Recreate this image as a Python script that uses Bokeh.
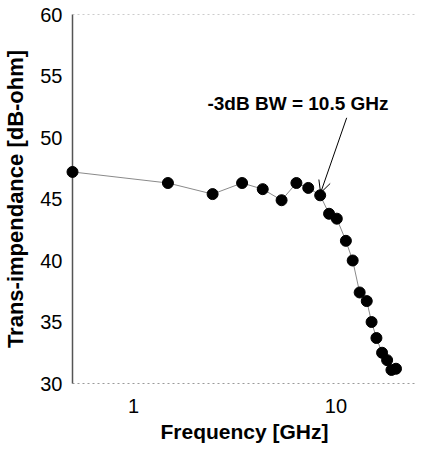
from bokeh.plotting import figure
from bokeh.models import FixedTicker, Range1d, Arrow, OpenHead, Span, ColumnDataSource
from bokeh.core.properties import value
from bokeh.embed import file_html
from bokeh.resources import INLINE

freq_ghz = [0.5, 1.48, 2.46, 3.44, 4.35, 5.39, 6.38, 7.30, 8.36, 9.25, 10.1,
            11.2, 12.1, 13.1, 14.2, 15.0, 15.85, 16.9, 17.9, 18.8, 19.8]
trans_imp = [47.2, 46.3, 45.4, 46.3, 45.8, 44.9, 46.3, 45.9, 45.3, 43.8, 43.4,
             41.6, 40.0, 37.4, 36.7, 35.0, 33.7, 32.5, 31.9, 31.1, 31.2]
x_ticks = [1, 10]
y_ticks = [30, 35, 40, 45, 50, 55, 60]
annot_text = ["-3dB BW = 10.5 GHz"]
annot_x = [2.32]
annot_y = [52.8]

FONT = "Liberation Sans"

p = figure(width=422, height=450, x_axis_type="log",
           x_range=Range1d(0.5, 25), y_range=Range1d(30, 60),
           output_backend="svg", toolbar_location=None,
           min_border_left=68, min_border_right=6, min_border_top=14, min_border_bottom=67)
p.outline_line_color = None
p.grid.visible = False
p.background_fill_color = "white"

src = ColumnDataSource(dict(x=freq_ghz, y=trans_imp))
p.line("x", "y", source=src, line_color="#8a8a8a", line_width=1)
p.scatter("x", "y", source=src, size=11, fill_color="black", line_color="black", level="overlay")

# top border (dotted, faint)
p.add_layout(Span(location=60, dimension="width", line_color="#9a9a9a",
                  line_dash="2 3", line_width=1))

p.xaxis.ticker = FixedTicker(ticks=x_ticks, minor_ticks=[])
p.yaxis.ticker = FixedTicker(ticks=y_ticks, minor_ticks=[])
p.xaxis.major_label_overrides = {1: "1", 10: "10"}

for ax in (p.xaxis[0], p.yaxis[0]):
    ax.major_tick_out = 0
    ax.major_tick_in = 0
    ax.minor_tick_out = 0
    ax.minor_tick_in = 0
    ax.major_label_text_font = FONT
    ax.major_label_text_font_size = "20px"
    ax.major_label_text_color = "black"
    ax.axis_label_text_font = FONT
    ax.axis_label_text_font_style = "bold"
    ax.axis_label_text_color = "black"

p.xaxis.axis_label = "Frequency [GHz]"
p.yaxis.axis_label = "Trans-impendance [dB-ohm]"
p.xaxis.axis_label_text_font_size = "21px"
p.yaxis.axis_label_text_font_size = "22px"
p.xaxis.axis_line_color = "#9a9a9a"
p.xaxis.axis_line_dash = "2 3"
p.yaxis.axis_line_color = "#555555"
p.yaxis.axis_line_width = 1.5
p.xaxis.major_label_standoff = 15
p.xaxis.axis_label_standoff = 4
p.yaxis.major_label_standoff = 10
p.yaxis.axis_label_standoff = 9

p.add_layout(Arrow(end=OpenHead(size=12, line_color="black", line_width=1),
                   x_start=11.3, y_start=51.6, x_end=8.4, y_end=45.5,
                   line_color="black", line_width=1))
p.text(x=annot_x, y=annot_y, text=annot_text, text_font=value(FONT),
       text_font_size="19px", text_font_style="bold", text_color="black",
       text_align="left", text_baseline="alphabetic", level="overlay")

open("out.html", "w").write(file_html(p, INLINE))
